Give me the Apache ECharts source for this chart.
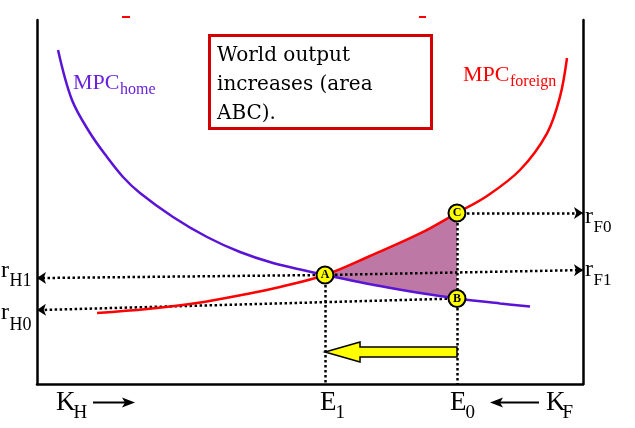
<!DOCTYPE html>
<html>
<head>
<meta charset="utf-8">
<script src="https://cdn.jsdelivr.net/npm/echarts@6/dist/echarts.min.js"></script>
<style>html,body{margin:0;padding:0;background:#fff}#c{width:635px;height:428px}</style>
</head>
<body>
<div id="c"></div>
<script>
// Capital (x) and marginal product / return (y), arbitrary 0-100 units
const mpcHome = [[3.85,91.76],[6.41,78.02],[9.71,68.96],[12.82,62.36],[15.75,56.87],[18.86,52.47],[24.91,45.88],[31.14,40.38],[37.18,36.26],[43.22,33.24],[49.45,31.04],[52.75,29.95],[62.82,26.92],[70.15,25.0],[76.92,23.49],[84.8,22.12],[90.29,21.29]];
const mpcForeign = [[10.99,19.51],[20.15,20.6],[29.3,22.25],[38.46,24.73],[44.51,26.65],[52.75,29.95],[60.99,35.16],[70.15,41.35],[76.92,46.98],[82.42,51.65],[88.46,58.79],[93.41,68.87],[95.79,78.93],[97.07,89.56]];
const eqNames = ['A','B','C'];
const eqValues = [[52.75,29.95],[76.92,23.49],[76.92,46.98]];
const E1 = 52.75, E0 = 76.92;
const rH1 = 29.1, rH0 = 20.3, rF1 = 31.3, rF0 = 46.98;
const shiftY = 8.8;

const chart = echarts.init(document.getElementById('c'));
const serif = "'Liberation Serif', 'Times New Roman', Times, serif";
const dotted = {color:'#000', width:2.5, type:[2.5,2.5], cap:'butt', opacity:1};

const cv = document.createElement('canvas').getContext('2d');
function label(x, base, main, s, size, ssize, sdy, color, gap){
  cv.font = size + 'px ' + serif;
  const w = cv.measureText(main).width;
  return [
    {type:'text', x:x, y:base - size*0.32, style:{text:main, fontFamily:serif, fontSize:size, fill:color, verticalAlign:'middle'}},
    {type:'text', x:x+w+(gap||0.5), y:base + sdy - ssize*0.32, style:{text:s, fontFamily:serif, fontSize:ssize, fill:color, verticalAlign:'middle'}}
  ];
}

const purple = '#5a14d6';
const red = '#ff0000';
const graphics = [
  {type:'line', shape:{x1:122,y1:17,x2:130,y2:17}, style:{stroke:red, lineWidth:2}},
  {type:'line', shape:{x1:419,y1:17,x2:426,y2:17}, style:{stroke:red, lineWidth:2}},
  {type:'rect', shape:{x:209.5,y:35.5,width:222,height:93}, style:{fill:'#fff', stroke:'#d40000', lineWidth:3}, z:10},
  {type:'text', x:217, y:41, z:11, style:{text:'World output\nincreases (area\nABC).', fontFamily:"'DejaVu Serif', serif", fontSize:20, fill:'#000', lineHeight:29, verticalAlign:'top'}},
  ...label(73, 90, 'MPC', 'home', 22, 16, 5, '#6a22dc'),
  ...label(463, 82, 'MPC', 'foreign', 22, 16, 5, red),
  ...label(1, 278, 'r', 'H1', 24, 18, 9, '#000'),
  ...label(1, 320, 'r', 'H0', 24, 18, 11, '#000'),
  ...label(585, 224, 'r', 'F0', 24, 17, 9, '#000'),
  ...label(585, 277, 'r', 'F1', 24, 17, 9, '#000'),
  ...label(56, 412, 'K', 'H', 27, 19, 7, '#000', -2),
  ...label(320, 412, 'E', '1', 27, 19, 7, '#000', -1),
  ...label(450, 412, 'E', '0', 27, 19, 7, '#000', -1),
  ...label(546, 412, 'K', 'F', 27, 19, 7, '#000', -3),
  {type:'line', shape:{x1:93,y1:402.5,x2:126,y2:402.5}, style:{stroke:'#000', lineWidth:2}},
  {type:'polygon', shape:{points:[[135,402.5],[122,397.5],[125,402.5],[122,407.5]]}, style:{fill:'#000'}},
  {type:'line', shape:{x1:500,y1:402.5,x2:539,y2:402.5}, style:{stroke:'#000', lineWidth:2}},
  {type:'polygon', shape:{points:[[490,402.5],[503,397.5],[500,402.5],[503,407.5]]}, style:{fill:'#000'}}
];

const inRange = p => p[0] >= E1 - 0.01 && p[0] <= E0 + 0.01;
const areaPoly = mpcForeign.filter(inRange).concat(mpcHome.filter(inRange).reverse());

const arrowLines = [
  {coords:[[E1, eqValues[0][1]],[0, rH1]]},
  {coords:[[E1, eqValues[0][1]],[100, rF1]]},
  {coords:[[E0, eqValues[1][1]],[0, rH0]]},
  {coords:[[E0, eqValues[2][1]],[100, rF0]]}
];
const vLines = [
  {coords:[[E1, eqValues[0][1]],[E1, 0]]},
  {coords:[[E0, eqValues[2][1]],[E0, 0]]}
];

chart.setOption({
  animation:false,
  grid:{left:37, right:52, top:20, bottom:44},
  xAxis:{type:'value', min:0, max:100, axisLine:{show:true, onZero:false, lineStyle:{color:'#000', width:2.5}}, axisTick:{show:false}, axisLabel:{show:false}, splitLine:{show:false}},
  yAxis:[
    {type:'value', min:0, max:100, axisLine:{show:true, lineStyle:{color:'#000', width:2.5}}, axisTick:{show:false}, axisLabel:{show:false}, splitLine:{show:false}},
    {type:'value', min:0, max:100, position:'right', axisLine:{show:true, lineStyle:{color:'#000', width:2.5}}, axisTick:{show:false}, axisLabel:{show:false}, splitLine:{show:false}}
  ],
  graphic: graphics,
  series:[
    {type:'custom', z:1, silent:true, data:[0], renderItem:(params, api)=>({
      type:'polygon', shape:{points: areaPoly.map(p=>api.coord(p))}, style:{fill:'#bd78a6'}
    })},
    {type:'lines', coordinateSystem:'cartesian2d', z:2, symbol:['none','arrow'], symbolSize:[8,9], lineStyle:dotted, itemStyle:{opacity:1}, data:arrowLines, silent:true},
    {type:'lines', coordinateSystem:'cartesian2d', z:2, symbol:['none','none'], lineStyle:dotted, data:vLines, silent:true},
    {type:'line', z:3, data:mpcHome, smooth:0.35, showSymbol:false, lineStyle:{color:purple, width:2.5}, silent:true},
    {type:'line', z:3, data:mpcForeign, smooth:0.35, showSymbol:false, lineStyle:{color:red, width:2.5}, silent:true},
    {type:'custom', z:4, silent:true, data:[[E0, shiftY, E1]], renderItem:(params, api)=>{
      const t = api.coord([api.value(0), api.value(1)]);
      const h = api.coord([api.value(2), api.value(1)]);
      const cy = t[1], hx = h[0], tx = t[0];
      return {type:'polygon', shape:{points:[[tx,cy-5],[hx+35,cy-5],[hx+35,cy-10],[hx,cy],[hx+35,cy+10],[hx+35,cy+5],[tx,cy+5]]},
        style:{fill:'#ffff00', stroke:'#000', lineWidth:1.5}};
    }},
    {type:'scatter', z:5, symbolSize:17, silent:true,
      data: eqValues.map((v,i)=>({name:eqNames[i], value:v})),
      itemStyle:{color:'#ffff00', borderColor:'#000', borderWidth:2, opacity:1},
      label:{show:true, position:'inside', formatter:'{b}', color:'#000', fontFamily:serif, fontSize:12, fontWeight:'bold'}}
  ]
});
</script>
</body>
</html>
